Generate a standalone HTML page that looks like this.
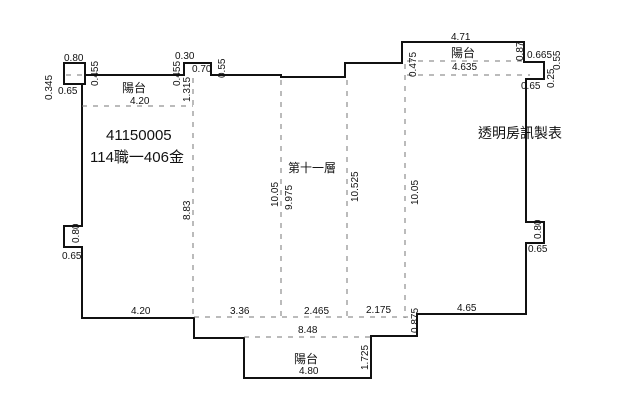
<!DOCTYPE html>
<html><head><meta charset="utf-8"><style>
html,body{margin:0;padding:0;background:#fff;width:640px;height:419px;overflow:hidden}
svg{display:block}
text{font-family:"Liberation Sans","Noto Sans CJK TC",sans-serif;fill:#111}
.d{font-size:10px}
</style></head><body>
<svg width="640" height="419" viewBox="0 0 640 419">
<g fill="none" stroke="#111" stroke-width="2">
<path d="M82,84 L82,226 L64,226 L64,247 L82,247 L82,318 L194,318 L194,338 L244,338 L244,378 L371,378 L371,336 L417,336 L417,314 L526,314 L526,243 L544,243 L544,222 L526,222 L526,79 L544,79 L544,62 L524,62 L524,42 L402,42 L402,63 L345,63 L345,77 L281,77 L281,75 L211,75 L211,63 L184,63 L184,75 L85,75 L85,84 L64,84 L64,63 L85,63 L85,75"/>
</g>
<g fill="none" stroke="#777" stroke-width="1" stroke-dasharray="5,6">
<path d="M82,106 H193"/>
<path d="M193,78 V318"/>
<path d="M281,80 V318"/>
<path d="M347,80 V318"/>
<path d="M405,64 V318"/>
<path d="M407,61 H525"/>
<path d="M407,75 H530"/>
<path d="M194,317 H413"/>
<path d="M244,337 H371"/>
<path d="M66,75 H84"/>
</g>
<text class="d" x="64" y="61">0.80</text>
<text class="d" x="58" y="94">0.65</text>
<text class="d" transform="translate(52,100) rotate(-90)">0.345</text>
<text class="d" transform="translate(98,86) rotate(-90)">0.455</text>
<text class="d" x="175" y="59">0.30</text>
<text class="d" transform="translate(180,86) rotate(-90)">0.455</text>
<text class="d" x="192" y="72">0.70</text>
<text class="d" transform="translate(225,78) rotate(-90)">0.55</text>
<text class="d" transform="translate(190,102) rotate(-90)">1.315</text>
<text x="122" y="92" font-size="12">陽台</text>
<text class="d" x="130" y="104">4.20</text>
<text x="106" y="140" font-size="15">41150005</text>
<text x="90" y="162" font-size="15">114職一406金</text>
<text x="288" y="172" font-size="12">第十一層</text>
<text class="d" transform="translate(278,207) rotate(-90)">10.05</text>
<text class="d" transform="translate(292,210) rotate(-90)">9.975</text>
<text class="d" transform="translate(358,202) rotate(-90)">10.525</text>
<text class="d" transform="translate(418,205) rotate(-90)">10.05</text>
<text class="d" transform="translate(190,220) rotate(-90)">8.83</text>
<text class="d" x="451" y="40">4.71</text>
<text x="451" y="57" font-size="12">陽台</text>
<text class="d" transform="translate(523,61) rotate(-90)">0.87</text>
<text class="d" x="527" y="58">0.665</text>
<text class="d" transform="translate(560,70) rotate(-90)">0.55</text>
<text class="d" transform="translate(554,88) rotate(-90)">0.25</text>
<text class="d" x="521" y="89">0.65</text>
<text class="d" transform="translate(416,77) rotate(-90)">0.475</text>
<text class="d" x="452" y="70">4.635</text>
<text x="478" y="138" font-size="14">透明房訊製表</text>
<text class="d" transform="translate(79,243) rotate(-90)">0.80</text>
<text class="d" x="62" y="259">0.65</text>
<text class="d" transform="translate(541,239) rotate(-90)">0.80</text>
<text class="d" x="528" y="252">0.65</text>
<text class="d" x="131" y="314">4.20</text>
<text class="d" x="230" y="314">3.36</text>
<text class="d" x="304" y="314">2.465</text>
<text class="d" x="366" y="313">2.175</text>
<text class="d" x="457" y="311">4.65</text>
<text class="d" x="298" y="333">8.48</text>
<text class="d" transform="translate(418,333) rotate(-90)">0.875</text>
<text x="294" y="363" font-size="12">陽台</text>
<text class="d" x="299" y="374">4.80</text>
<text class="d" transform="translate(368,370) rotate(-90)">1.725</text>
</svg>
</body></html>
